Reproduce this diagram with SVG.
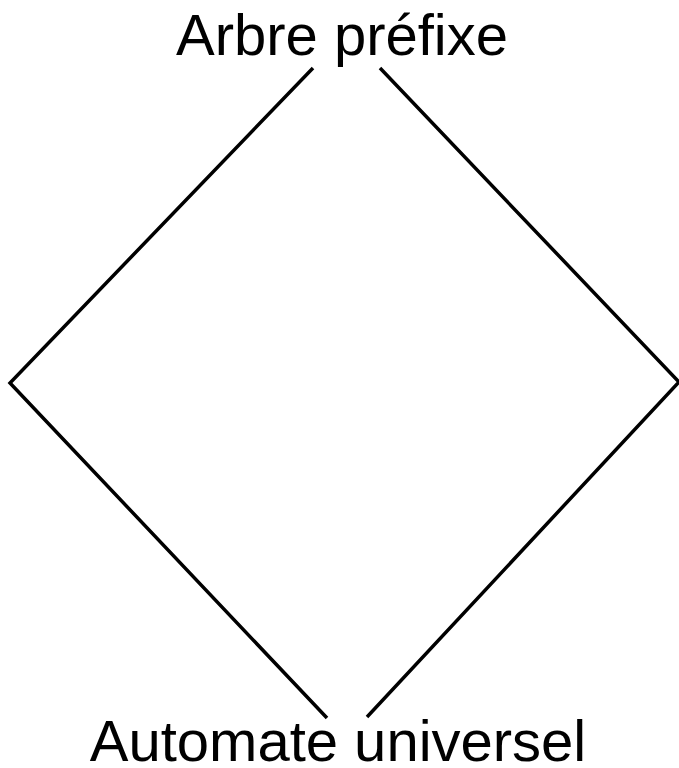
<svg xmlns="http://www.w3.org/2000/svg" width="679" height="768" viewBox="0 0 679 768">
<style>
.lbl{font-family:"Liberation Sans",Arial,sans-serif;font-size:58px;fill:#000;text-anchor:middle}
.edge{fill:none;stroke:#000;stroke-width:3.5}
</style>
<rect width="679" height="768" fill="#fff"/>
<g id="connectors">
<polyline class="edge" points="313,68 10,383 327,718"/>
<polyline class="edge" points="380,68 679,382 367,717"/>
</g>
<g id="node-arbre"><text class="lbl" x="342" y="55">Arbre préfixe</text></g>
<g id="node-automate"><text class="lbl" x="338" y="761">Automate universel</text></g>
</svg>
